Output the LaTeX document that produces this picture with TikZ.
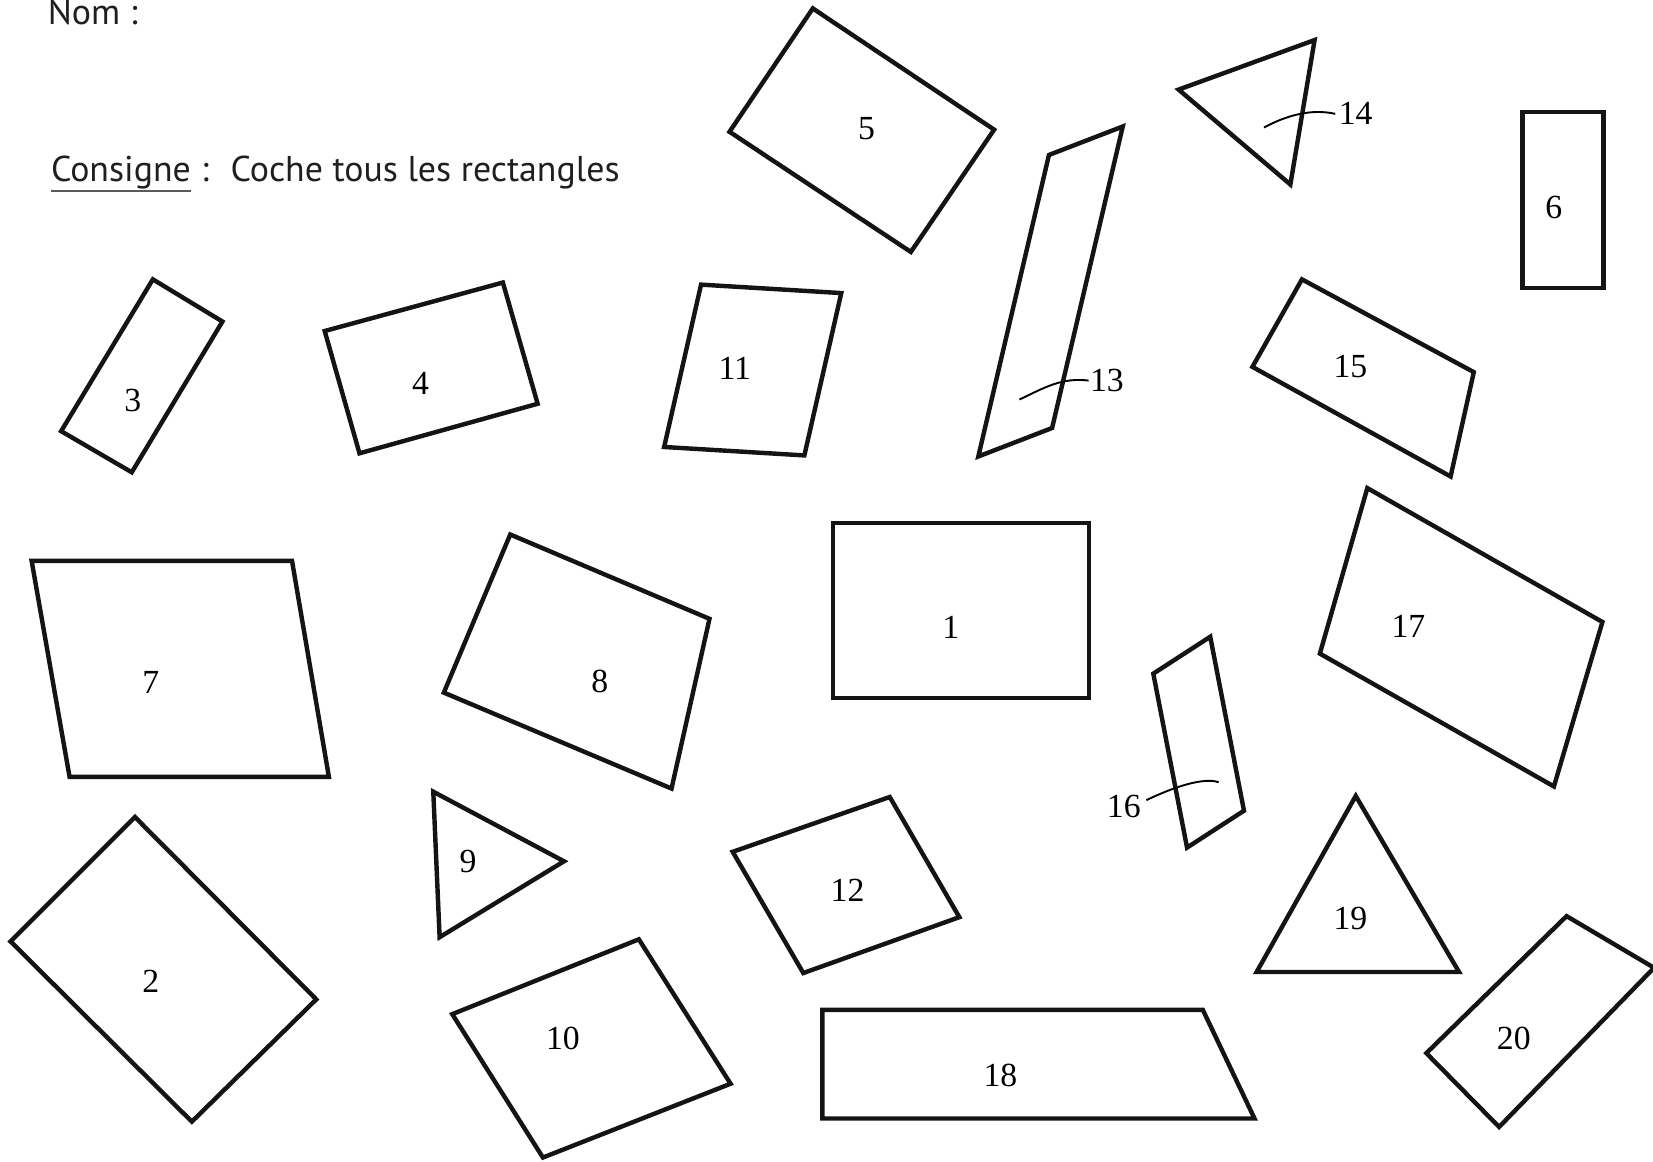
\documentclass[tikz,border=0pt]{standalone}
\usepackage{fontspec}
\setmainfont{Liberation Serif}
\newfontfamily\headfont{PT Sans}
\begin{document}
\begin{tikzpicture}[x=0.5pt,y=-0.5pt,
  shp/.style={draw=black!92,line width=2.1pt,line join=miter},
  lbl/.style={font=\fontsize{16}{18}\selectfont,inner sep=0pt},
  lead/.style={draw=black,line width=0.9pt},
  head/.style={font=\headfont\fontsize{17}{20}\selectfont,text=black!88,inner sep=0pt}]
\useasboundingbox (0,0) rectangle (1568,1102);
\begin{scope}
\clip (0,0) rectangle (1568,1102);
% header
\node[head,anchor=base west] (nom) at (45,23) {Nom :};
\node[head,anchor=base west] (cons) at (48,172) {Consigne};
\node[head,anchor=base west] (instr) at (cons.base east) {\ :\hspace{0.6em}Coche tous les rectangles};
\draw[black!65,line width=1.2pt] ([yshift=-4.5pt]cons.base west) -- ([yshift=-4.5pt]cons.base east);
% shapes
\draw[shp] (771,8) -- (943,123) -- (864,239) -- (692,125) -- cycle;
\draw[shp] (1118,85) -- (1247,38) -- (1224,175) -- cycle;
\draw[shp] (1444,106) rectangle (1521,273);
\draw[shp] (995,147) -- (1065,120) -- (998,406) -- (928,433) -- cycle;
\draw[shp] (145,265) -- (211,305) -- (125,448) -- (58,409) -- cycle;
\draw[shp] (308,314) -- (477,268) -- (510,383) -- (341,430) -- cycle;
\draw[shp] (665,270) -- (798,278) -- (763,432) -- (630,424) -- cycle;
\draw[shp] (1235,265) -- (1398,353) -- (1376,452) -- (1188,348) -- cycle;
\draw[shp] (30,532) -- (277,532) -- (312,737) -- (66,737) -- cycle;
\draw[shp] (484,507) -- (673,587) -- (637,748) -- (421,657) -- cycle;
\draw[shp] (790,496) rectangle (1033,662);
\draw[shp] (1297,463) -- (1520,590) -- (1474,746) -- (1252,620) -- cycle;
\draw[shp] (1094,639) -- (1148,604) -- (1180,769) -- (1126,804) -- cycle;
\draw[shp] (128,775) -- (300,948) -- (182,1064) -- (10,893) -- cycle;
\draw[shp] (411,751) -- (535,817) -- (417,889) -- cycle;
\draw[shp] (695,808) -- (844,756) -- (910,870) -- (762,923) -- cycle;
\draw[shp] (1286,755) -- (1384,922) -- (1192,922) -- cycle;
\draw[shp] (429,962) -- (606,891) -- (693,1028) -- (515,1098) -- cycle;
\draw[shp] (780,958) -- (1141,958) -- (1190,1061) -- (780,1061) -- cycle;
\draw[shp] (1486,869) -- (1569,918) -- (1422,1069) -- (1353,999) -- cycle;
% labels
\node[lbl] (l1) at (902,595) {1};
\node[lbl] (l2) at (143,931) {2};
\node[lbl] (l3) at (126,380) {3};
\node[lbl] (l4) at (399,364) {4};
\node[lbl] (l5) at (822,122) {5};
\node[lbl] (l6) at (1474,197) {6};
\node[lbl] (l7) at (143,647) {7};
\node[lbl] (l8) at (569,646) {8};
\node[lbl] (l9) at (444,817) {9};
\node[lbl] (l10) at (534,985) {10};
\node[lbl] (l11) at (697,349) {11};
\node[lbl] (l12) at (804,845) {12};
\node[lbl] (l13) at (1050,361) {13};
\node[lbl] (l14) at (1286,108) {14};
\node[lbl] (l15) at (1281,348) {15};
\node[lbl] (l16) at (1066,765) {16};
\node[lbl] (l17) at (1336,594) {17};
\node[lbl] (l18) at (949,1020) {18};
\node[lbl] (l19) at (1281,871) {19};
\node[lbl] (l20) at (1436,985) {20};
% leader lines
\coordinate (c13) at (967,379);
\coordinate (c14) at (1199,121);
\coordinate (c16) at (1156,742);
\draw[lead] ([xshift=-0.5pt]l13.west) .. controls +(-25,-3) and +(25,-12) .. (c13);
\draw[lead] ([xshift=-1.5pt]l14.west) .. controls +(-22,-5) and +(22,-12) .. (c14);
\draw[lead] ([shift={(2.5pt,3pt)}]l16.east) .. controls +(25,-12) and +(-15,-5) .. (c16);
\end{scope}
\end{tikzpicture}
\end{document}
